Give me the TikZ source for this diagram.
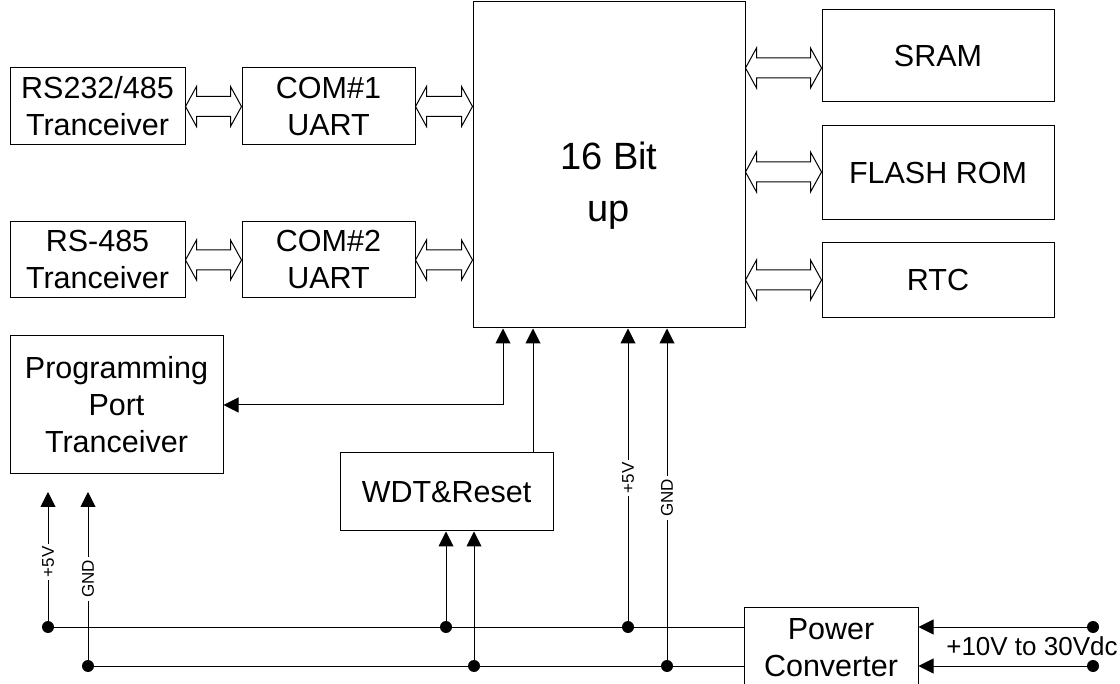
\documentclass[tikz,border=0pt]{standalone}
\usepackage{fontspec}
\setmainfont{Liberation Sans}
\usetikzlibrary{arrows.meta,calc}
\tikzset{
  box/.style={draw, line width=1pt, inner sep=0pt, align=center, font=\fontsize{30.5pt}{37pt}\selectfont},
  wire/.style={line width=1pt},
  tip/.tip={Triangle[length=15pt,width=15pt]},
  arr/.style={wire,-tip},
  wlabel/.style={rotate=90, fill=white, inner sep=3pt, font=\fontsize{17pt}{19pt}\selectfont},
  dot/.style={fill=black}
}
\newcommand\darrow[2]{\draw[wire,line join=miter] ($#1$) -- ($#1+(11,-20)$) -- ($#1+(11,-10)$) -- ($#2+(-11,-10)$) -- ($#2+(-11,-20)$) -- ($#2$) -- ($#2+(-11,20)$) -- ($#2+(-11,10)$) -- ($#1+(11,10)$) -- ($#1+(11,20)$) -- cycle;}
\begin{document}
\begin{tikzpicture}[x=1pt,y=-1pt]
\useasboundingbox (0,0) rectangle (1120,684);
% boxes
\node[box, minimum width=175pt, minimum height=77pt] (rs1) at (97.5,106.5) {RS232/485\\Tranceiver};
\node[box, minimum width=173pt, minimum height=77pt] (com1) at (328.5,106.5) {COM\#1\\UART};
\node[box, minimum width=175pt, minimum height=76pt] (rs2) at (97.5,260) {RS-485\\Tranceiver};
\node[box, minimum width=173pt, minimum height=76pt] (com2) at (328.5,260) {COM\#2\\UART};
\node[box, minimum width=272pt, minimum height=326pt] (up) at (609,165) {};
\node[align=center, font=\fontsize{38pt}{52pt}\selectfont] (uptext) at (609,186) {16 Bit\\up};
\node[box, minimum width=232pt, minimum height=92pt] (sram) at (938,56) {SRAM};
\node[box, minimum width=232pt, minimum height=94pt] (flash) at (938,173) {FLASH ROM};
\node[box, minimum width=232pt, minimum height=75pt] (rtc) at (938,280.5) {RTC};
\node[box, minimum width=213pt, minimum height=138pt] (prog) at (116.5,405) {Programming\\Port\\Tranceiver};
\node[box, minimum width=213pt, minimum height=78pt] (wdt) at (446.5,492) {WDT\&Reset};
\node[box, minimum width=174pt, minimum height=82pt] (pwr) at (831,648) {Power\\Converter};
% hollow bus arrows
\coordinate (u1) at (up.west |- com1.east);
\coordinate (u2) at (up.west |- com2.east);
\darrow{(rs1.east)}{(com1.west)}
\darrow{(com1.east)}{(u1)}
\darrow{(rs2.east)}{(com2.west)}
\darrow{(com2.east)}{(u2)}
\coordinate (sy) at (0,68);
\coordinate (fy) at (0,172);
\coordinate (ry) at (0,280);
\coordinate (s0) at (up.east |- sy);
\coordinate (s1) at (sram.west |- sy);
\coordinate (f0) at (up.east |- fy);
\coordinate (f1) at (flash.west |- fy);
\coordinate (r0) at (up.east |- ry);
\coordinate (r1) at (rtc.west |- ry);
\darrow{(s0)}{(s1)}
\darrow{(f0)}{(f1)}
\darrow{(r0)}{(r1)}
% programming port link
\coordinate (pux) at (503,0);
\draw[wire,tip-tip] (prog.east) -| (up.south -| pux);
% WDT to up
\coordinate (wx) at (533,0);
\draw[arr] (wdt.north -| wx) -- (up.south -| wx);
% bus points
\coordinate (b5a) at (48,627);
\coordinate (b5b) at (446,627);
\coordinate (b5c) at (628,627);
\coordinate (bga) at (88,666);
\coordinate (bgb) at (474,666);
\coordinate (bgc) at (667,666);
\coordinate (pp5) at (48,492);
\coordinate (ppg) at (88,492);
% buses
\draw[wire] (b5a) -- (pwr.west |- b5a);
\draw[wire] (bga) -- (pwr.west |- bga);
% verticals
\draw[arr] (b5a) -- (pp5);
\draw[arr] (bga) -- (ppg);
\draw[arr] (b5b) -- (wdt.south -| b5b);
\draw[arr] (bgb) -- (wdt.south -| bgb);
\draw[arr] (b5c) -- (up.south -| b5c);
\draw[arr] (bgc) -- (up.south -| bgc);
% wire labels
\node[wlabel] (l1) at (48,562) {+5V};
\node[wlabel] (l2) at (88,579) {GND};
\node[wlabel] (l3) at (628,478) {+5V};
\node[wlabel] (l4) at (667,498) {GND};
% dots
\foreach \p in {b5a,b5b,b5c,bga,bgb,bgc} \fill[dot] (\p) circle (6pt);
% power input
\coordinate (in1) at (1093,627);
\coordinate (in2) at (1093,666);
\draw[arr] (in1) -- (pwr.east |- in1);
\draw[arr] (in2) -- (pwr.east |- in2);
\fill[dot] (in1) circle (6pt);
\fill[dot] (in2) circle (6pt);
\node[font=\fontsize{26pt}{30pt}\selectfont] (vin) at (1032,646) {+10V to 30Vdc};
\end{tikzpicture}
\end{document}
